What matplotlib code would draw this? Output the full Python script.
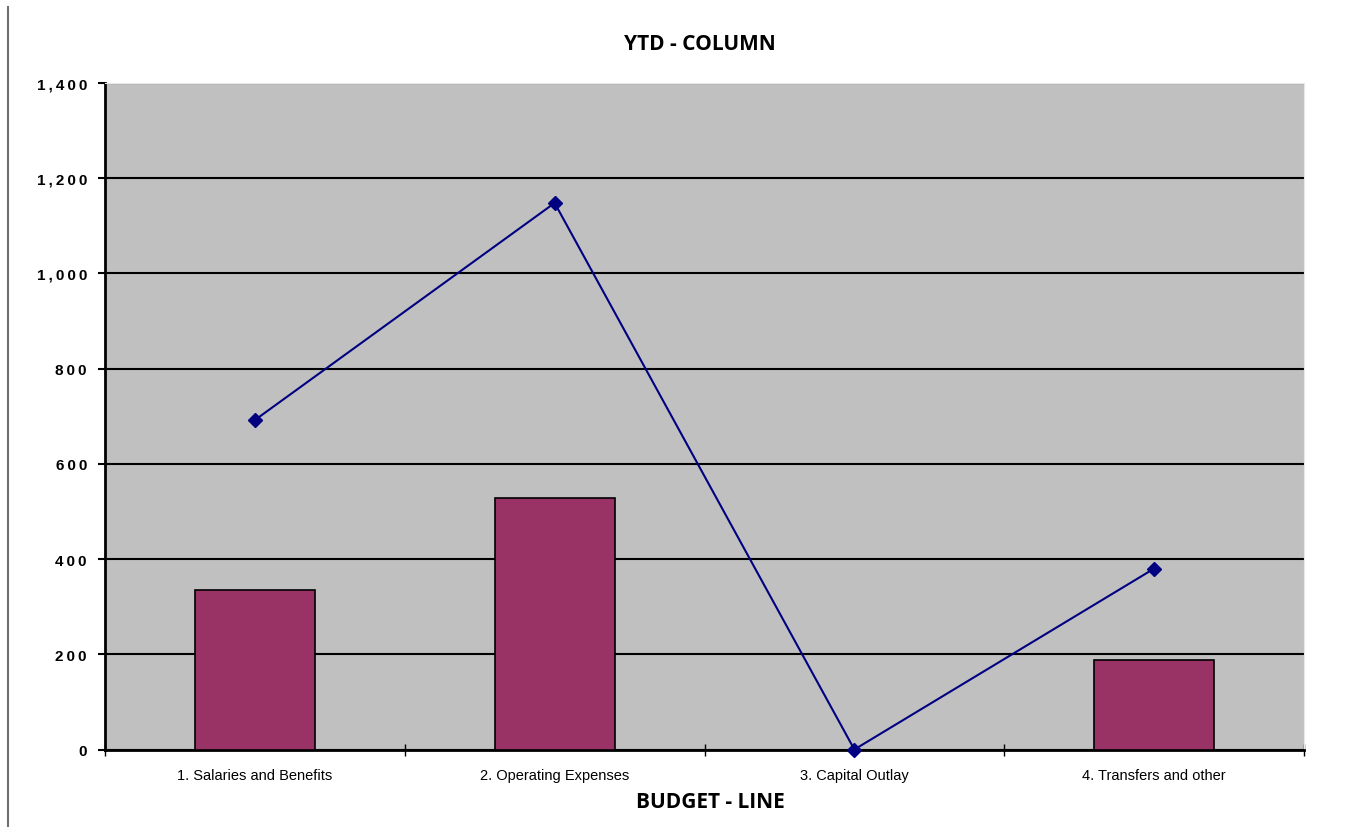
import numpy as np
import matplotlib.pyplot as plt
from matplotlib.lines import Line2D

categories = ["1. Salaries and Benefits", "2. Operating Expenses",
              "3. Capital Outlay", "4. Transfers and other"]
bar_values = [334, 528, 0, 187]
line_values = [692, 1148, 0, 380]
y_ticks = [0, 200, 400, 600, 800, 1000, 1200, 1400]

fig = plt.figure(figsize=(13.51, 8.28), dpi=100)
ax = fig.add_axes([105 / 1351, 1 - 750.5 / 828, 1199 / 1351, 666.5 / 828])
ax.set_facecolor("#C0C0C0")

x = np.arange(len(categories))
ax.bar(x, bar_values, width=0.4, color="#993366", edgecolor="black", linewidth=1.2, zorder=3)
ax.plot(x, line_values, color="#000080", linewidth=1.5, marker="D", markersize=7,
        zorder=4, clip_on=False)

ax.set_xlim(-0.5, len(categories) - 0.5)
ax.set_ylim(0, 1400)
ax.set_yticks(y_ticks)
# spaced-out digits like the original spreadsheet rendering
ax.set_yticklabels(["\u2009".join(f"{v:,}") for v in y_ticks], fontweight="bold",
                   fontsize=11, family=["Liberation Sans", "DejaVu Sans"])
ax.yaxis.grid(True, color="black", linewidth=1.5, zorder=1)
ax.set_axisbelow(True)

ax.set_xticks(x)
ax.set_xticklabels(categories, fontsize=10.5, family="Liberation Sans")
ax.tick_params(axis="x", length=0, pad=13)
ax.set_xticks(np.arange(-0.5, len(categories)), minor=True)
ax.tick_params(axis="x", which="minor", length=8, direction="inout", width=1)
ax.tick_params(axis="y", length=5, width=1.5, pad=8)

for side in ["top", "right"]:
    ax.spines[side].set_color("#e8e8e8")
ax.spines["left"].set_linewidth(2)
ax.spines["bottom"].set_linewidth(2)

fig.text(700 / 1351, 1 - 45 / 828, "YTD - COLUMN", ha="center", va="center",
         fontsize=15, fontweight="bold", family="Open Sans")
fig.text(710 / 1351, 1 - 803 / 828, "BUDGET - LINE", ha="center", va="center",
         fontsize=15, fontweight="bold", family="Open Sans")

fig.add_artist(Line2D([7.5 / 1351, 7.5 / 1351], [0, 1 - 8 / 828], color="#707070",
                      linewidth=1.5, transform=fig.transFigure))

fig.savefig("out.png", dpi=100)
